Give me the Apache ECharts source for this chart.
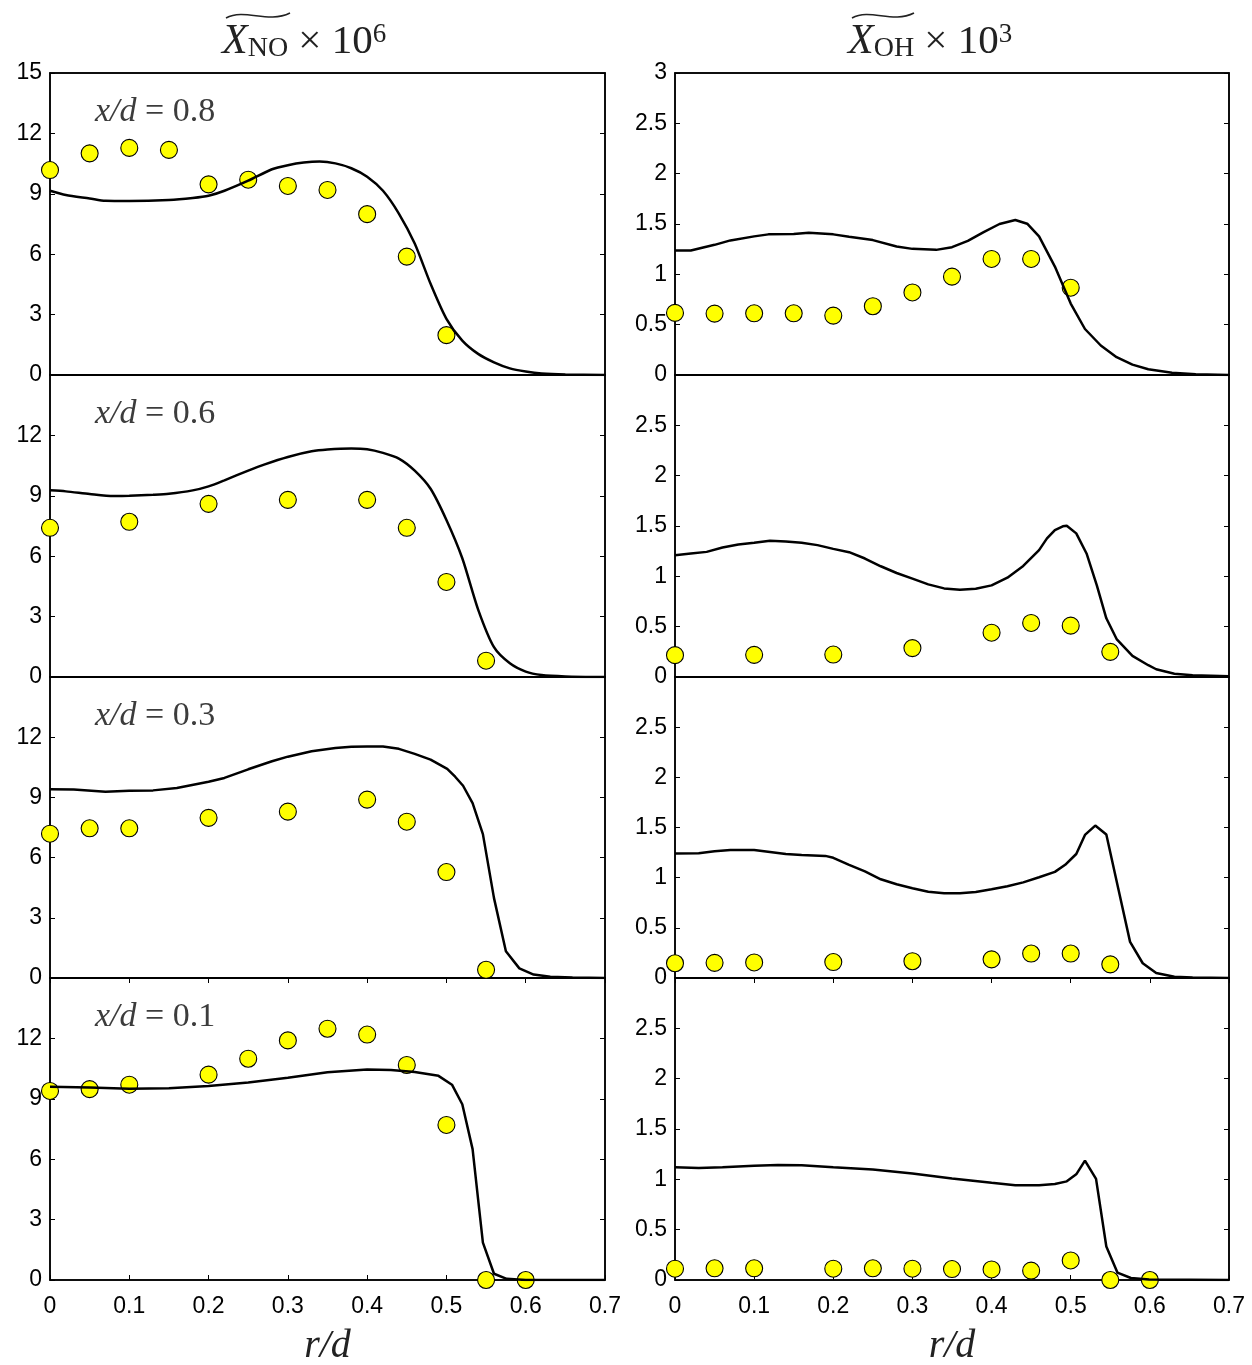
<!DOCTYPE html>
<html>
<head>
<meta charset="utf-8">
<title>NO and OH radial profiles</title>
<script src="https://cdn.jsdelivr.net/npm/echarts@6/dist/echarts.min.js"></script>
<style>
  html, body { margin: 0; padding: 0; background: #fff; }
  #chart { width: 1252px; height: 1365px; }
</style>
</head>
<body>
<div id="chart"></div>
<script>
// Axial stations, top to bottom
const stations = ['0.8', '0.6', '0.3', '0.1'];

// ---- NO mole fraction (x 1e6): simulation curves [r/d, value] ----
const noLine08 = [[0,9.15],[0.02,8.94],[0.05,8.77],[0.07,8.65],[0.1,8.64],[0.15,8.69],[0.18,8.79],[0.2,8.90],[0.22,9.15],[0.25,9.65],[0.28,10.22],[0.3,10.42],[0.32,10.55],[0.34,10.60],[0.36,10.51],[0.38,10.27],[0.4,9.85],[0.42,9.15],[0.44,8.02],[0.46,6.53],[0.48,4.53],[0.5,2.79],[0.52,1.71],[0.54,1.05],[0.56,0.63],[0.58,0.33],[0.6,0.17],[0.62,0.07],[0.65,0.02],[0.7,0]];
const noLine06 = [[0,9.27],[0.02,9.22],[0.05,9.09],[0.08,8.99],[0.1,9.00],[0.13,9.05],[0.15,9.10],[0.18,9.27],[0.2,9.47],[0.22,9.77],[0.25,10.25],[0.27,10.55],[0.3,10.93],[0.33,11.21],[0.35,11.30],[0.38,11.35],[0.4,11.31],[0.42,11.13],[0.44,10.85],[0.46,10.25],[0.48,9.35],[0.5,7.8],[0.52,5.9],[0.54,3.35],[0.56,1.48],[0.58,0.68],[0.6,0.27],[0.62,0.10],[0.65,0.03],[0.7,0]];
const noLine03 = [[0,9.41],[0.03,9.39],[0.07,9.28],[0.1,9.33],[0.13,9.35],[0.16,9.47],[0.2,9.78],[0.22,9.97],[0.25,10.40],[0.28,10.80],[0.3,11.03],[0.33,11.30],[0.36,11.46],[0.38,11.52],[0.4,11.54],[0.42,11.54],[0.44,11.42],[0.46,11.17],[0.48,10.88],[0.501,10.42],[0.511,10.03],[0.521,9.58],[0.533,8.71],[0.546,7.17],[0.56,3.98],[0.575,1.33],[0.592,0.48],[0.61,0.17],[0.631,0.06],[0.659,0.02],[0.7,0]];
const noLine01 = [[0,9.60],[0.05,9.56],[0.1,9.50],[0.15,9.52],[0.2,9.64],[0.25,9.81],[0.3,10.04],[0.35,10.32],[0.4,10.45],[0.43,10.43],[0.46,10.33],[0.49,10.14],[0.507,9.70],[0.52,8.73],[0.533,6.50],[0.54,3.99],[0.546,1.86],[0.56,0.31],[0.576,0.06],[0.6,0],[0.7,0]];

// ---- NO measurements ----
const noExpR08 = [0,0.05,0.1,0.15,0.2,0.25,0.3,0.35,0.4,0.45,0.5];
const noExp08  = [10.18,11.01,11.28,11.18,9.47,9.70,9.39,9.19,7.99,5.88,1.98];
const noExpR06 = [0,0.1,0.2,0.3,0.4,0.45,0.5,0.55];
const noExp06  = [7.41,7.71,8.60,8.80,8.80,7.41,4.72,0.81];
const noExpR03 = [0,0.05,0.1,0.2,0.3,0.4,0.45,0.5,0.55];
const noExp03  = [7.19,7.46,7.46,7.98,8.29,8.89,7.79,5.28,0.41];
const noExpR01 = [0,0.05,0.1,0.2,0.25,0.3,0.35,0.4,0.45,0.5,0.55,0.6];
const noExp01  = [9.39,9.48,9.70,10.20,10.99,11.90,12.48,12.19,10.68,7.70,0,0];

// ---- OH mole fraction (x 1e3): simulation curves [r/d, value] ----
const ohLine08 = [[0,1.237],[0.02,1.237],[0.05,1.293],[0.07,1.337],[0.1,1.377],[0.118,1.397],[0.15,1.40],[0.169,1.413],[0.2,1.397],[0.22,1.373],[0.25,1.34],[0.28,1.277],[0.3,1.253],[0.33,1.243],[0.35,1.27],[0.37,1.333],[0.39,1.42],[0.41,1.50],[0.43,1.54],[0.445,1.503],[0.46,1.377],[0.48,1.077],[0.5,0.71],[0.518,0.457],[0.538,0.293],[0.558,0.177],[0.578,0.103],[0.598,0.057],[0.628,0.023],[0.658,0.007],[0.7,0]];
const ohLine06 = [[0,1.21],[0.02,1.227],[0.04,1.243],[0.06,1.287],[0.08,1.317],[0.1,1.333],[0.12,1.353],[0.14,1.347],[0.16,1.333],[0.18,1.31],[0.2,1.273],[0.22,1.24],[0.24,1.177],[0.26,1.10],[0.28,1.033],[0.3,0.977],[0.32,0.92],[0.34,0.88],[0.36,0.867],[0.38,0.877],[0.4,0.91],[0.42,0.987],[0.44,1.103],[0.46,1.26],[0.47,1.377],[0.48,1.46],[0.49,1.497],[0.495,1.503],[0.507,1.427],[0.52,1.227],[0.533,0.91],[0.545,0.583],[0.558,0.377],[0.578,0.21],[0.598,0.117],[0.608,0.077],[0.631,0.033],[0.654,0.017],[0.7,0.007]];
const ohLine03 = [[0,1.24],[0.03,1.244],[0.05,1.264],[0.07,1.275],[0.1,1.275],[0.12,1.256],[0.14,1.236],[0.16,1.225],[0.19,1.217],[0.2,1.198],[0.22,1.128],[0.24,1.062],[0.26,0.984],[0.28,0.934],[0.3,0.895],[0.32,0.86],[0.34,0.845],[0.36,0.845],[0.38,0.857],[0.4,0.884],[0.42,0.915],[0.44,0.953],[0.46,1.004],[0.48,1.058],[0.493,1.128],[0.507,1.236],[0.518,1.426],[0.531,1.519],[0.545,1.43],[0.56,0.895],[0.575,0.36],[0.591,0.147],[0.608,0.05],[0.631,0.012],[0.654,0.004],[0.7,0]];
const ohLine01 = [[0,1.12],[0.03,1.112],[0.06,1.12],[0.1,1.136],[0.13,1.143],[0.16,1.14],[0.2,1.12],[0.25,1.097],[0.3,1.058],[0.35,1.008],[0.4,0.965],[0.43,0.942],[0.46,0.942],[0.48,0.953],[0.495,0.98],[0.507,1.05],[0.518,1.186],[0.532,1.004],[0.545,0.333],[0.559,0.074],[0.576,0.02],[0.599,0.004],[0.7,0]];

// ---- OH measurements ----
const ohExpR08 = [0,0.05,0.1,0.15,0.2,0.25,0.3,0.35,0.4,0.45,0.5];
const ohExp08  = [0.617,0.61,0.613,0.613,0.59,0.683,0.82,0.977,1.153,1.153,0.867];
const ohExpR06 = [0,0.1,0.2,0.3,0.4,0.45,0.5,0.55];
const ohExp06  = [0.217,0.22,0.223,0.287,0.44,0.537,0.51,0.25];
const ohExpR03 = [0,0.05,0.1,0.2,0.3,0.4,0.45,0.5,0.55];
const ohExp03  = [0.147,0.151,0.155,0.159,0.167,0.186,0.244,0.244,0.136];
const ohExpR01 = [0,0.05,0.1,0.2,0.25,0.3,0.35,0.4,0.45,0.5,0.55,0.6];
const ohExp01  = [0.112,0.116,0.116,0.112,0.116,0.112,0.109,0.105,0.093,0.194,0,0];

// Axis ranges and tick steps
const rRange = { min: 0, max: 0.7, interval: 0.1 };
const noRange = { min: 0, max: 15, interval: 3 };
const ohRange = { min: 0, max: 3, interval: 0.5 };

const panels = [
  { col: 0, row: 0, line: noLine08, er: noExpR08, ev: noExp08, smooth: 0.25 },
  { col: 1, row: 0, line: ohLine08, er: ohExpR08, ev: ohExp08, smooth: false },
  { col: 0, row: 1, line: noLine06, er: noExpR06, ev: noExp06, smooth: 0.25 },
  { col: 1, row: 1, line: ohLine06, er: ohExpR06, ev: ohExp06, smooth: false },
  { col: 0, row: 2, line: noLine03, er: noExpR03, ev: noExp03, smooth: false },
  { col: 1, row: 2, line: ohLine03, er: ohExpR03, ev: ohExp03, smooth: false },
  { col: 0, row: 3, line: noLine01, er: noExpR01, ev: noExp01, smooth: false },
  { col: 1, row: 3, line: ohLine01, er: ohExpR01, ev: ohExp01, smooth: false }
];

// Layout of the 4x2 panel stack
const colLeft = [50, 675];
const colWidth = [555, 554];
const rowTop = [73, 375, 677, 978];
const rowHeight = [302, 302, 301, 302];

const BLACK = '#000';
const INK = '#222';
const sans = 'Liberation Sans, Arial, sans-serif';
const serif = 'Liberation Serif, Times New Roman, serif';
const frameLine = { color: BLACK, width: 1.5 };
const tickStyle = { show: true, inside: true, length: 5, lineStyle: { color: BLACK, width: 1 } };

const grids = [], xAxes = [], yAxes = [], series = [];

panels.forEach((p, i) => {
  const bottom = p.row === 3;
  const yr = p.col === 0 ? noRange : ohRange;
  grids.push({
    left: colLeft[p.col], top: rowTop[p.row],
    width: colWidth[p.col], height: rowHeight[p.row],
    outerBoundsMode: 'none', containLabel: false,
    show: true, borderColor: BLACK, borderWidth: 1.5, backgroundColor: 'transparent'
  });
  // bottom r/d axis
  const xIndex = xAxes.length;
  xAxes.push({
    gridIndex: i, type: 'value', position: 'bottom', ...rRange,
    axisLine: { show: true, onZero: false, lineStyle: frameLine },
    axisTick: { ...tickStyle, show: bottom },
    axisLabel: { show: bottom, margin: 15, color: BLACK, fontFamily: sans, fontSize: 23,
                 formatter: v => String(+v.toFixed(1)) },
    splitLine: { show: false },
    name: bottom ? 'r/d' : '', nameLocation: 'middle', nameGap: 46,
    nameTextStyle: { fontFamily: serif, fontStyle: 'italic', fontSize: 40, color: INK }
  });
  // mirrored top axis (ticks only on the lowest row)
  xAxes.push({
    gridIndex: i, type: 'value', position: 'top', ...rRange,
    axisLine: { show: true, onZero: false, lineStyle: frameLine },
    axisTick: { ...tickStyle, show: bottom },
    axisLabel: { show: false }, splitLine: { show: false }
  });
  const yIndex = yAxes.length;
  const topVal = yr.max;
  yAxes.push({
    gridIndex: i, type: 'value', position: 'left', ...yr,
    axisLine: { show: true, onZero: false, lineStyle: frameLine },
    axisTick: tickStyle,
    axisLabel: { show: true, margin: 8, color: BLACK, fontFamily: sans, fontSize: 23,
                 formatter: v => (p.row > 0 && Math.abs(v - topVal) < 1e-9) ? '' : String(+v.toFixed(1)) },
    splitLine: { show: false }
  });
  yAxes.push({
    gridIndex: i, type: 'value', position: 'right', ...yr,
    axisLine: { show: true, onZero: false, lineStyle: frameLine },
    axisTick: tickStyle,
    axisLabel: { show: false }, splitLine: { show: false }
  });

  series.push({
    type: 'scatter', xAxisIndex: xIndex, yAxisIndex: yIndex,
    data: p.er.map((r, k) => [r, p.ev[k]]),
    symbol: 'circle', symbolSize: 17, clip: false, z: 2,
    itemStyle: { color: '#ffff00', borderColor: BLACK, borderWidth: 1.1, opacity: 1 }
  });
  series.push({
    type: 'line', xAxisIndex: xIndex, yAxisIndex: yIndex,
    data: p.line, showSymbol: false, smooth: p.smooth, z: 3,
    lineStyle: { color: BLACK, width: 2.5 }
  });
});

// Station labels inside the NO panels
const stationLabels = stations.map((s, k) => ({
  type: 'text', x: 95, y: rowTop[k] + 39, z: 10,
  style: {
    text: '{i|x/d}{m| = ' + s + '}', verticalAlign: 'middle',
    rich: {
      i: { fontFamily: serif, fontStyle: 'italic', fontSize: 34, fill: '#3c3c3c' },
      m: { fontFamily: serif, fontSize: 34, fill: '#3c3c3c' }
    }
  }
}));

function headerText(x, species, exponent) {
  return {
    type: 'text', x: x, y: 21, z: 10,
    style: {
      text: '{x|X}{s|' + species + '}{m| \u00d7 10}{p|' + exponent + '}',
      fill: INK, verticalAlign: 'top',
      rich: {
        x: { fontFamily: serif, fontStyle: 'italic', fontSize: 42, lineHeight: 42, verticalAlign: 'middle', fill: INK },
        s: { fontFamily: serif, fontSize: 28, lineHeight: 28, verticalAlign: 'bottom', fill: INK },
        m: { fontFamily: serif, fontSize: 41, lineHeight: 42, verticalAlign: 'middle', fill: INK },
        p: { fontFamily: serif, fontSize: 27, lineHeight: 36, verticalAlign: 'top', fill: INK }
      }
    }
  };
}

function wideTilde(x0, x1) {
  const w = x1 - x0;
  return {
    type: 'bezierCurve', z: 10,
    shape: { x1: x0, y1: 18, cpx1: x0 + w * 0.3, cpy1: 8, cpx2: x0 + w * 0.65, cpy2: 24, x2: x1, y2: 13 },
    style: { stroke: INK, lineWidth: 1.6, fill: null }
  };
}

const chart = echarts.init(document.getElementById('chart'), null, { renderer: 'canvas' });
chart.setOption({
  backgroundColor: '#fff',
  animation: false,
  grid: grids,
  xAxis: xAxes,
  yAxis: yAxes,
  series: series,
  graphic: [
    headerText(222, 'NO', '6'),
    headerText(848, 'OH', '3'),
    wideTilde(226, 290),
    wideTilde(852, 914),
    ...stationLabels
  ]
});
</script>
</body>
</html>
